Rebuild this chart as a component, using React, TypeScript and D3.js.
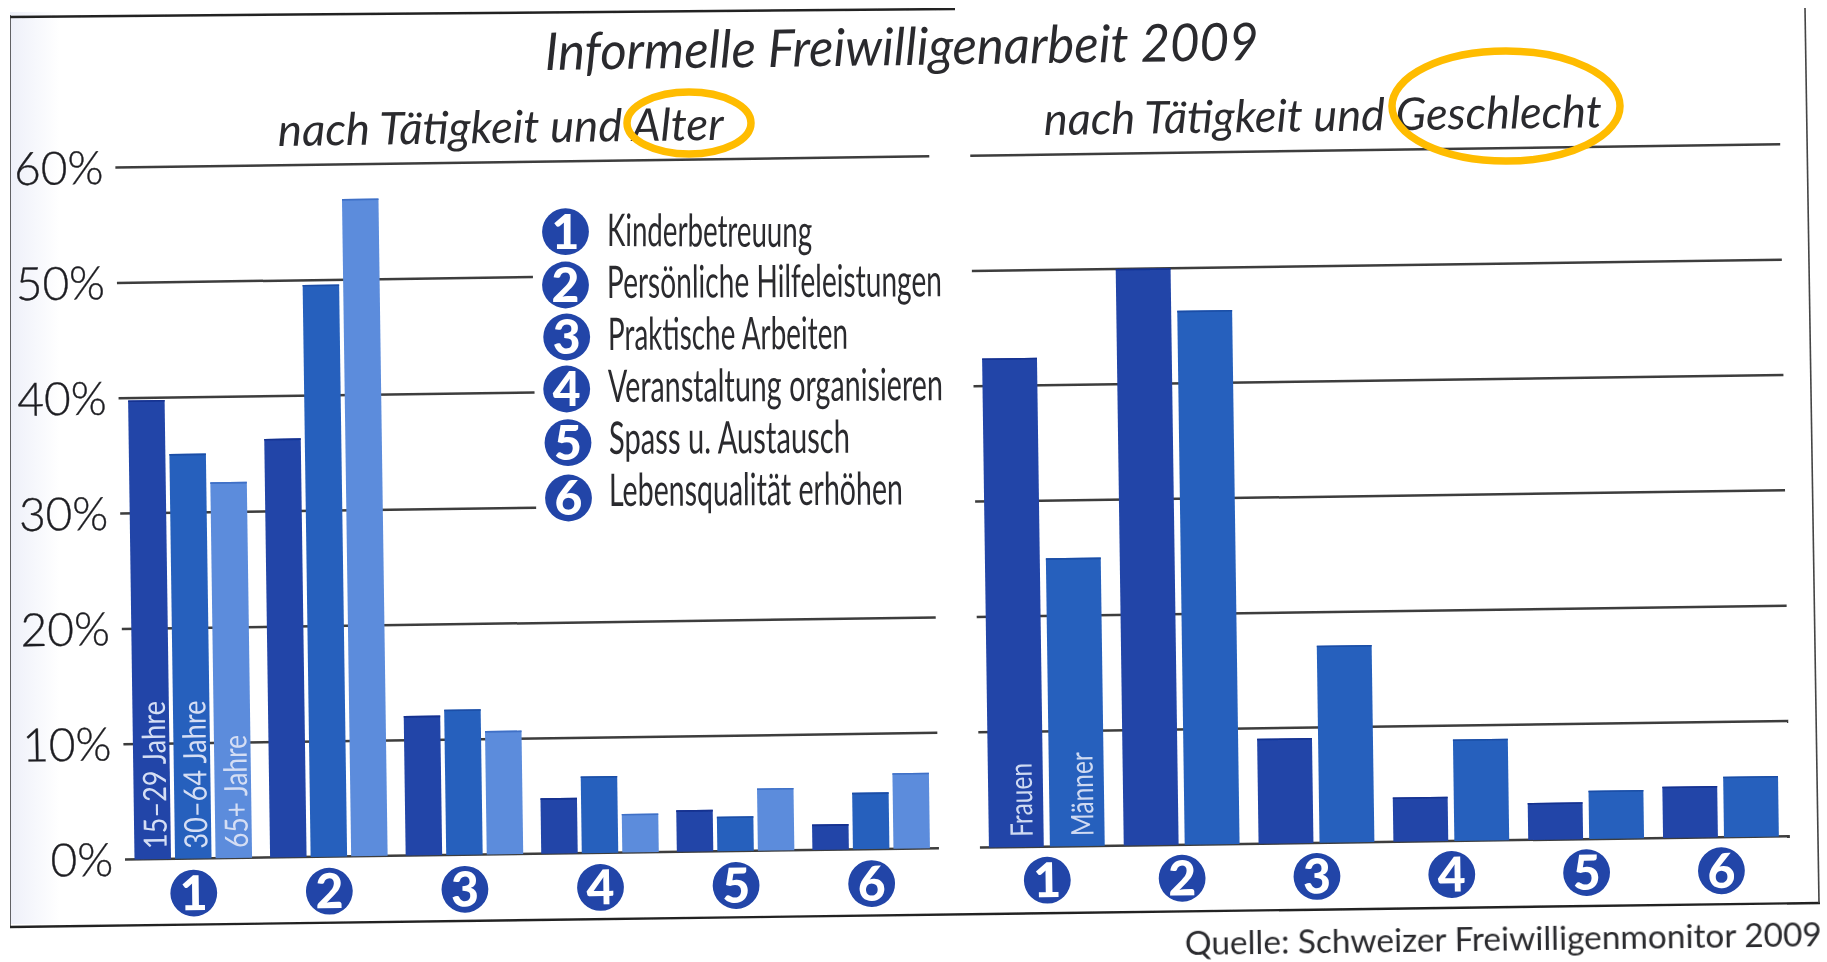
import React from "react";
import * as d3 from "d3";

const W = 1827;
const H = 962;

const categories = ["1", "2", "3", "4", "5", "6"];
const ageGroups = ["15–29 Jahre", "30–64 Jahre", "65+ Jahre"];
const genders = ["Frauen", "Männer"];
const age1529 = [39.8, 36.3, 12.1, 4.8, 3.6, 2.2];
const age3064 = [35.1, 49.6, 12.6, 6.65, 3.0, 4.9];
const age65 = [32.6, 57.0, 10.7, 3.35, 5.4, 6.55];
const women = [42.4, 50.0, 9.1, 3.85, 3.2, 4.45];
const men = [25.0, 46.3, 17.1, 8.8, 4.2, 5.25];
const yTicks = [0, 10, 20, 30, 40, 50, 60];
const legendLabels = [
  "Kinderbetreuung",
  "Persönliche Hilfeleistungen",
  "Praktische Arbeiten",
  "Veranstaltung organisieren",
  "Spass u. Austausch",
  "Lebensqualität erhöhen",
];

const DARK = "#2044a8";
const MID = "#2661bd";
const LIGHT = "#5b8cdc";
const DARK_TOP = "#16308f";
const MID_TOP = "#1c4ea6";
const LIGHT_TOP = "#3f70c6";
const FONT = "Lato, 'Open Sans', sans-serif";
const TILT = -0.8;

const y = d3.scaleLinear().domain([0, 60]).range([859.5, 167.5]);

const leftGroups = d3.scaleBand<string>().domain(categories).range([134.5, 930]).paddingInner(0.133);
const leftBars = d3.scaleBand<string>().domain(ageGroups).range([0, leftGroups.bandwidth()]).paddingInner(0.1);
const rightGroups = d3.scaleBand<string>().domain(categories).range([989, 1779]).paddingInner(0.141);
const rightBars = d3.scaleBand<string>().domain(genders).range([0, rightGroups.bandwidth()]).paddingInner(0.1);

const ageSeries = [age1529, age3064, age65];
const genderSeries = [women, men];
const ageColors = [DARK, MID, LIGHT];
const ageTops = [DARK_TOP, MID_TOP, LIGHT_TOP];
const genderColors = [DARK, MID];
const genderTops = [DARK_TOP, MID_TOP];

type LabelProps = {
  x: number;
  y: number;
  w: number;
  size: number;
  italic?: boolean;
  weight?: number;
  rotate?: number;
  children: string;
};

function Label({ x, y: yy, w, size, italic, weight = 400, rotate = TILT, children }: LabelProps) {
  return (
    <text
      transform={`translate(${x},${yy}) rotate(${rotate})`}
      fontFamily={FONT}
      fontSize={size}
      fontStyle={italic ? "italic" : "normal"}
      fontWeight={weight}
      fill="#2b2b2e"
      textLength={w}
      lengthAdjust="spacingAndGlyphs"
    >
      {children}
    </text>
  );
}

function Badge({ cx, cy, n }: { cx: number; cy: number; n: string }) {
  return (
    <g>
      <circle cx={cx} cy={cy} r={23.4} fill={DARK} />
      <text
        x={cx}
        y={cy + 17}
        textAnchor="middle"
        fontFamily={FONT}
        fontWeight={900}
        fontSize={48}
        fill="#ffffff"
      >
        {n}
      </text>
    </g>
  );
}

const legendRows = [
  { cx: 565.5, cy: 231.7, tx: 607, ty: 246, w: 205 },
  { cx: 565.5, cy: 285, tx: 607, ty: 298, w: 335 },
  { cx: 566.7, cy: 337, tx: 608, ty: 350, w: 240 },
  { cx: 566.7, cy: 389, tx: 608, ty: 402, w: 335 },
  { cx: 568, cy: 442.7, tx: 609, ty: 454, w: 241 },
  { cx: 568.5, cy: 498, tx: 609, ty: 506, w: 294 },
];

export default function App() {
  return (
    <svg
      width={W}
      height={H}
      viewBox={`0 0 ${W} ${H}`}
      style={{ position: "absolute", left: 0, top: 0, background: "#ffffff" }}
    >
      <defs>
        <linearGradient id="paperEdge" x1="0" x2="1" y1="0" y2="0">
          <stop offset="0" stopColor="#eef0f9" />
          <stop offset="1" stopColor="#ffffff" />
        </linearGradient>
        <filter id="scan" x="0" y="0" width="1" height="1" filterUnits="objectBoundingBox">
          <feGaussianBlur stdDeviation="0.55" />
        </filter>
      </defs>
      <rect x={10} y={12} width={50} height={912} fill="url(#paperEdge)" />

      <g filter="url(#scan)">
        {/* frame of the scanned page */}
        <line x1={10} y1={17} x2={955} y2={9} stroke="#222" strokeWidth={2.5} />
        <line x1={10} y1={15} x2={10} y2={927} stroke="#333" strokeWidth={1.5} />
        <line x1={10} y1={927} x2={1820} y2={903} stroke="#222" strokeWidth={2.4} />
        <line x1={1805} y1={8} x2={1819} y2={903} stroke="#444" strokeWidth={1.6} />

        <g transform={`rotate(${TILT},127,858)`}>
          {/* gridlines */}
          {yTicks.map((t) => (
            <g key={t}>
              <line
                x1={125}
                x2={t >= 30 && t <= 50 ? 541 : 939}
                y1={y(t)}
                y2={y(t)}
                stroke="#3c3c3c"
                strokeWidth={2.5}
              />
              <line x1={980} x2={1790} y1={y(t)} y2={y(t)} stroke="#3c3c3c" strokeWidth={2.5} />
              <text
                x={113}
                y={y(t) + 16}
                textAnchor="end"
                fontFamily={FONT}
                fontWeight={300}
                fontSize={46}
                fill="#1f1f22"
                stroke="#1f1f22"
                strokeWidth={0.4}
              >
                {t}%
              </text>
            </g>
          ))}

          {/* left bars */}
          {categories.map((c, i) =>
            ageGroups.map((a, j) => (
              <g key={c + a}>
                <rect
                  x={(leftGroups(c) as number) + (leftBars(a) as number)}
                  y={y(ageSeries[j][i])}
                  width={leftBars.bandwidth()}
                  height={y(0) - y(ageSeries[j][i])}
                  fill={ageColors[j]}
                />
                <rect
                  x={(leftGroups(c) as number) + (leftBars(a) as number)}
                  y={y(ageSeries[j][i])}
                  width={leftBars.bandwidth()}
                  height={1.6}
                  fill={ageTops[j]}
                />
              </g>
            ))
          )}

          {/* right bars */}
          {categories.map((c, i) =>
            genders.map((g, j) => (
              <g key={c + g}>
                <rect
                  x={(rightGroups(c) as number) + (rightBars(g) as number)}
                  y={y(genderSeries[j][i])}
                  width={rightBars.bandwidth()}
                  height={y(0) - y(genderSeries[j][i])}
                  fill={genderColors[j]}
                />
                <rect
                  x={(rightGroups(c) as number) + (rightBars(g) as number)}
                  y={y(genderSeries[j][i])}
                  width={rightBars.bandwidth()}
                  height={1.6}
                  fill={genderTops[j]}
                />
              </g>
            ))
          )}

          {/* labels inside bars */}
          {ageGroups.map((a, j) => (
            <text
              key={a}
              transform={`translate(${(leftGroups("1") as number) + (leftBars(a) as number) + leftBars.bandwidth() - 4},${y(0) - 10}) rotate(-90)`}
              fontFamily={FONT}
              fontSize={32}
              fill="#d5def4"
              textLength={j === 2 ? 113 : 148}
              lengthAdjust="spacingAndGlyphs"
            >
              {a}
            </text>
          ))}
          {genders.map((g, j) => (
            <text
              key={g}
              transform={`translate(${(rightGroups("1") as number) + (rightBars(g) as number) + rightBars.bandwidth() - 11},${y(0) - 10}) rotate(-90)`}
              fontFamily={FONT}
              fontSize={31}
              fill="#cfdaf2"
              textLength={j === 0 ? 74 : 84}
              lengthAdjust="spacingAndGlyphs"
            >
              {g}
            </text>
          ))}

          {/* category badges */}
          {categories.map((c) => (
            <g key={c}>
              <Badge cx={(leftGroups(c) as number) + leftGroups.bandwidth() / 2} cy={894} n={c} />
              <Badge cx={(rightGroups(c) as number) + rightGroups.bandwidth() / 2} cy={893} n={c} />
            </g>
          ))}
        </g>

        {/* legend */}
        {legendLabels.map((l, i) => (
          <g key={l}>
            <Badge cx={legendRows[i].cx} cy={legendRows[i].cy} n={categories[i]} />
            <Label x={legendRows[i].tx} y={legendRows[i].ty} w={legendRows[i].w} size={45} rotate={i === 0 ? 0.3 : -0.3}>
              {l}
            </Label>
          </g>
        ))}

        {/* titles */}
        <Label x={545} y={70} w={714} size={52} italic>
          Informelle Freiwilligenarbeit 2009
        </Label>
        <Label x={278} y={146} w={446} size={45} italic>
          nach Tätigkeit und Alter
        </Label>
        <Label x={1044} y={135} w={558} size={45} italic>
          nach Tätigkeit und Geschlecht
        </Label>
        <Label x={1185} y={955} w={637} size={33}>
          Quelle: Schweizer Freiwilligenmonitor 2009
        </Label>

        {/* hand-drawn highlights */}
        <ellipse cx={689} cy={123} rx={62} ry={31} fill="none" stroke="#ffbc00" strokeWidth={7.5} />
        <ellipse cx={1506} cy={106} rx={114} ry={55} fill="none" stroke="#ffbc00" strokeWidth={7.5} />
      </g>
    </svg>
  );
}
